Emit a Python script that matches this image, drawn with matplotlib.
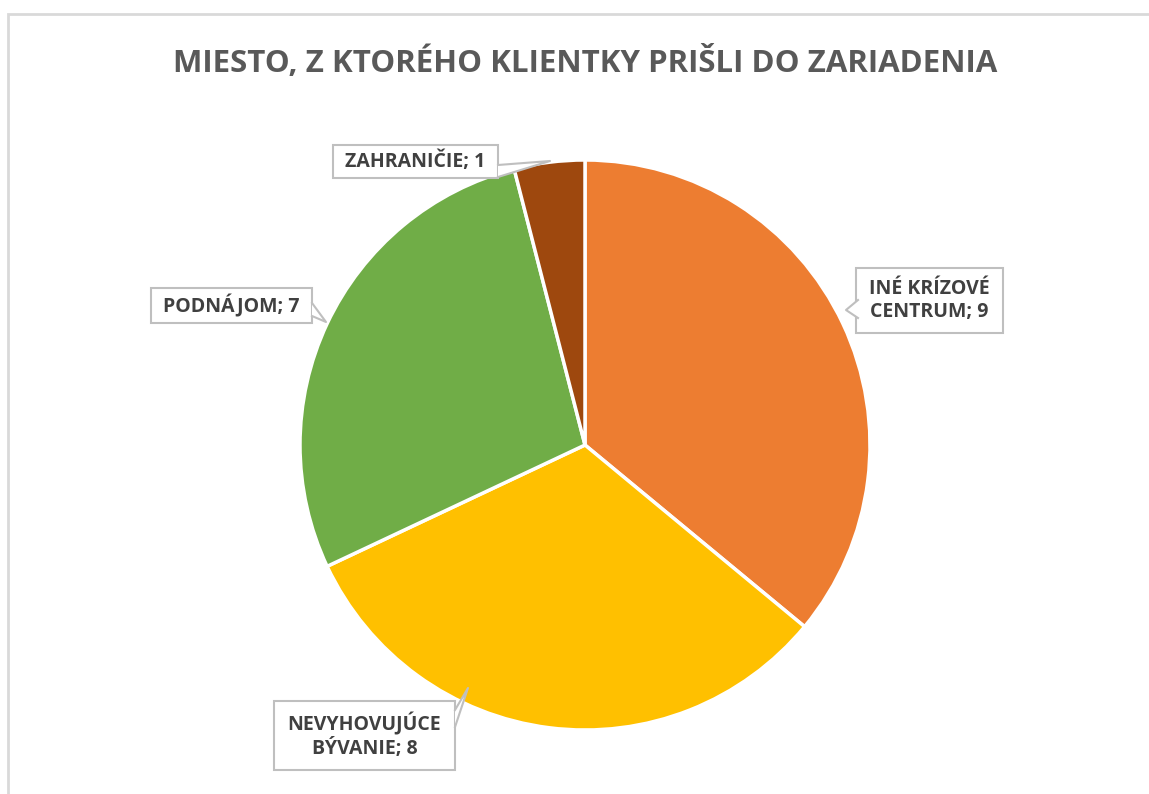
import matplotlib.pyplot as plt
from matplotlib.patches import Rectangle, Polygon
import numpy as np

categories = ['INÉ KRÍZOVÉ\nCENTRUM', 'NEVYHOVUJÚCE\nBÝVANIE', 'PODNÁJOM', 'ZAHRANIČIE']
values = [9, 8, 7, 1]
colors = ['#ED7D31', '#FFC000', '#70AD47', '#9E480E']

W, H = 1149, 794
fig = plt.figure(figsize=(W / 100, H / 100), dpi=100)
ax = fig.add_axes([0, 0, 1, 1])
ax.set_xlim(0, W)
ax.set_ylim(0, H)
ax.set_aspect('equal')
ax.axis('off')

# outer chart border (light gray)
ax.add_patch(Rectangle((8, -20), W + 20, H - 14 + 20, fill=False, edgecolor='#D9D9D9', lw=2))

ax.pie(values, colors=colors, startangle=90, counterclock=False,
       center=(585, H - 445), radius=285,
       wedgeprops=dict(edgecolor='white', linewidth=2.5))
ax.set_xlim(0, W)
ax.set_ylim(0, H)

ax.text(585, H - 62, 'MIESTO, Z KTORÉHO KLIENTKY PRIŠLI DO ZARIADENIA',
        ha='center', va='center', fontsize=22.5, fontweight='bold',
        color='#595959', family='Open Sans')

# label boxes: (left, top, right, bottom) in pixels, pointer (base1, base2, tip)
boxes = [
    ((856, 268, 1003, 333), ((858, 300), (858, 318), (846, 310))),
    ((274, 701, 455, 770), ((455, 710), (455, 727), (468, 688))),
    ((151, 288, 312, 323), ((312, 303), (312, 316), (326, 322))),
    ((333, 145, 498, 178), ((498, 165), (498, 177), (550, 161))),
]

for cat, val, (box, ptr) in zip(categories, values, boxes):
    l, t, r, b = box
    ax.add_patch(Rectangle((l, H - b), r - l, b - t, facecolor='white',
                           edgecolor='#BFBFBF', lw=1.5, zorder=5))
    pts = [(x, H - y) for x, y in ptr]
    ax.add_patch(Polygon(pts, closed=True, facecolor='white', edgecolor='none', zorder=6))
    ax.plot([pts[0][0], pts[2][0], pts[1][0]], [pts[0][1], pts[2][1], pts[1][1]],
            color='#BFBFBF', lw=1.5, zorder=7)
    ax.text((l + r) / 2, H - (t + b) / 2, f'{cat}; {val}', ha='center', va='center',
            fontsize=14, fontweight='bold', color='#404040', family='Open Sans',
            linespacing=1.25, zorder=8)

fig.savefig('out.png', dpi=100, facecolor='white')
